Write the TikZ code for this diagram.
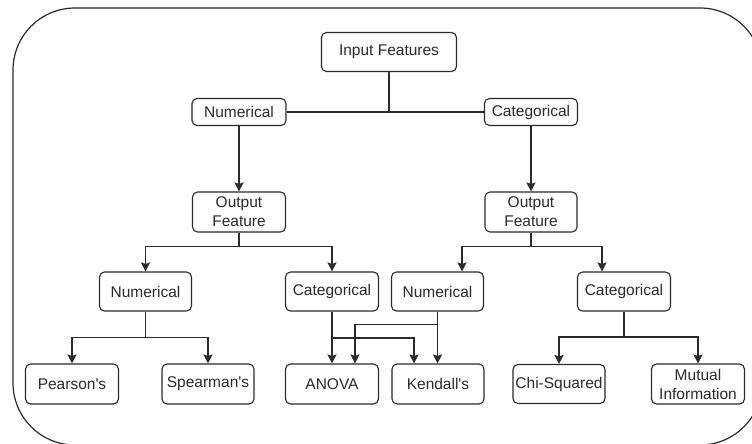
\documentclass[tikz,border=0pt]{standalone}
\usepackage{fontspec}
\setmainfont{Liberation Sans}
\usetikzlibrary{arrows.meta}
\definecolor{ink}{HTML}{2B2B2B}
\tikzset{
  box/.style={draw=ink, line width=1.1pt, rounded corners=5pt, fill=white,
    inner sep=0pt, align=center, text=ink,
    font=\fontsize{15.5}{19}\selectfont},
  conn/.style={draw=ink, line width=1.3pt},
  arr/.style={conn, -{Stealth[length=9pt,width=9pt,inset=1.5pt]}},
}
\begin{document}
\begin{tikzpicture}[x=1pt,y=-1pt]
\useasboundingbox (0,0) rectangle (752,444);
\begin{scope}
\clip (0,0) rectangle (752,444);
\draw[ink, line width=1.2pt, rounded corners=62pt] (13,8) rectangle (762,445);
\end{scope}
% nodes
\node[box, minimum width=135pt, minimum height=39pt] (in) at (389,52) {Input Features};
\node[box, minimum width=94pt, minimum height=27pt] (num1) at (239,112) {Numerical};
\node[box, minimum width=93pt, minimum height=27pt] (cat1) at (531,112) {Categorical};
\node[box, minimum width=93pt, minimum height=40pt] (out1) at (239,212) {Output\\Feature};
\node[box, minimum width=92pt, minimum height=40pt] (out2) at (531,212) {Output\\Feature};
\node[box, minimum width=92pt, minimum height=39pt] (num2) at (145.5,291.5) {Numerical};
\node[box, minimum width=93pt, minimum height=39pt] (cat2) at (332,291.5) {Categorical};
\node[box, minimum width=92pt, minimum height=39pt] (num3) at (437.5,291.5) {Numerical};
\node[box, minimum width=93pt, minimum height=39pt] (cat3) at (624,291.5) {Categorical};
\node[box, minimum width=93pt, minimum height=40pt] (pear) at (72,384) {Pearson\textquotesingle s};
\node[box, minimum width=92pt, minimum height=40pt] (spear) at (208,384) {Spearman\textquotesingle s};
\node[box, minimum width=93pt, minimum height=40pt] (anova) at (332,384) {ANOVA};
\node[box, minimum width=92pt, minimum height=40pt] (kend) at (438,384) {Kendall\textquotesingle s};
\node[box, minimum width=92pt, minimum height=39pt] (chi) at (559,384) {Chi-Squared};
\node[box, minimum width=93pt, minimum height=40pt] (mi) at (698,384) {Mutual\\Information};
% connectors
\draw[conn] (num1.east) -- (cat1.west);
\draw[conn] (in.south) -- (in.south |- num1.east);
\draw[arr] (num1.south) -- (out1.north);
\draw[arr] (cat1.south) -- (out2.north);
\draw[arr] (out1.south) -- ++(0,14) -| (num2.north);
\draw[arr] (out1.south) -- ++(0,14) -| (cat2.north);
\draw[arr] (out2.south) -- ++(0,14) -| ([xshift=24.5pt]num3.north);
\draw[arr] (out2.south) -- ++(0,14) -| ([xshift=-22pt]cat3.north);
\draw[arr] (num2.south) -- ++(0,26) -| (pear.north);
\draw[arr] (num2.south) -- ++(0,26) -| (spear.north);
\draw[arr] (cat2.south) -- (anova.north);
\draw[arr] (cat2.south) -- ++(0,26.5) -| ([xshift=-24pt]kend.north);
\draw[arr] (num3.south) -- (num3.south |- kend.north);
\draw[arr] (num3.south) -- ++(0,13) -| ([xshift=23pt]anova.north);
\draw[arr] (cat3.south) -- ++(0,25.5) -| (chi.north);
\draw[arr] (cat3.south) -- ++(0,25.5) -| (mi.north);
\end{tikzpicture}
\end{document}
